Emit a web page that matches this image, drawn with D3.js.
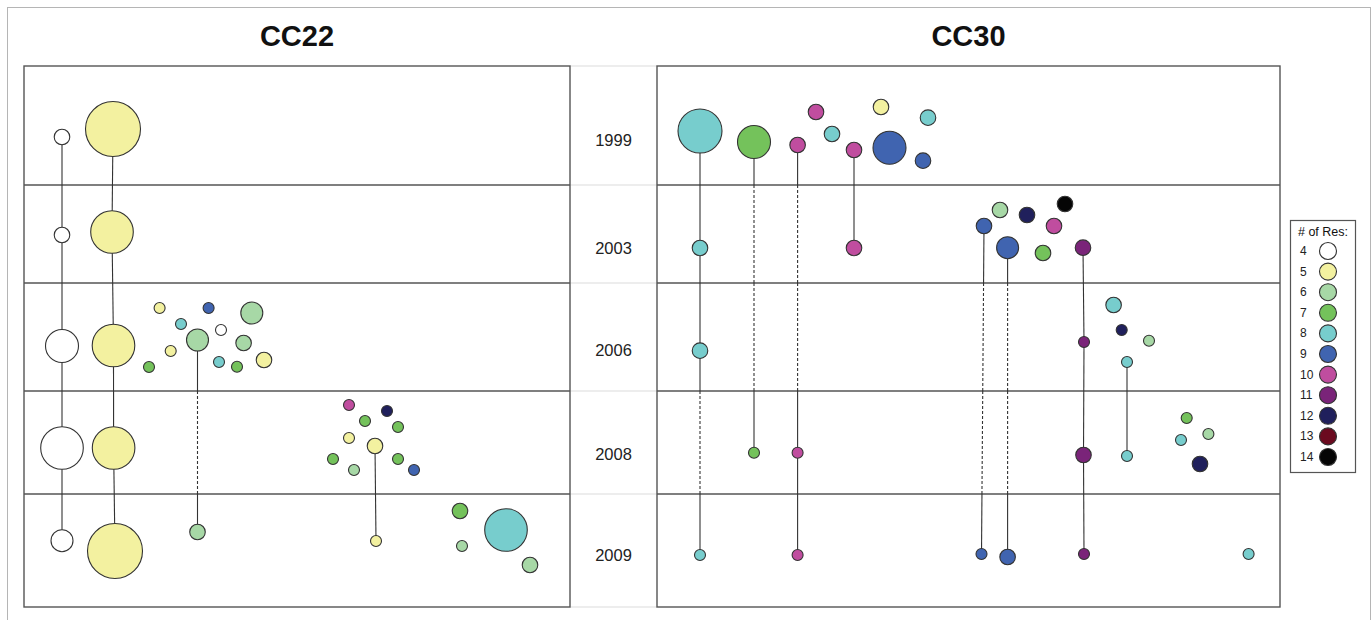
<html>
<head>
  <title>CC22 / CC30</title>
  <script src='https://d3js.org/d3.v7.min.js'></script>
  <style>
    body { margin: 0; background: white; }
    text { font-family: "Liberation Sans", Arial, Helvetica, sans-serif; }
  </style>
</head>
<body>
<script>

// ---- data ----
var years = ["1999", "2003", "2006", "2008", "2009"];
// row boundaries and year label positions, in panel y units (0 = panel top)
var rowBreaks = [0, 119, 217, 325, 428, 541];
var yearLabelY = [74, 182, 284, 388, 489];

var resLevels = [4, 5, 6, 7, 8, 9, 10, 11, 12, 13, 14];
var resColors = ["#ffffff", "#f3f1a0", "#a7d8a6", "#74c25b", "#77cdcd", "#4064b0",
                 "#c04d9f", "#7a2479", "#20205c", "#6b0a1f", "#050505"];

// [id, row, x, y, # of res, n isolates]
var cc22Nodes = [
  ["a1", 0, 38, 71, 4, 2], ["a2", 0, 89, 63, 5, 25],
  ["b1", 1, 38, 169, 4, 2], ["b2", 1, 88, 166, 5, 15],
  ["c1", 2, 38, 280, 4, 9], ["c2", 2, 89.5, 279.5, 5, 15],
  ["c3", 2, 135.6, 242, 5, 1], ["c4", 2, 184.6, 242, 9, 1],
  ["c5", 2, 227.8, 247, 6, 4], ["c6", 2, 157, 258, 8, 1],
  ["c7", 2, 197, 264, 4, 1], ["c8", 2, 173.5, 274, 6, 4],
  ["c9", 2, 219.6, 277, 6, 2], ["c10", 2, 146.7, 285, 5, 1],
  ["c11", 2, 240, 294, 5, 2], ["c12", 2, 195, 296, 8, 1],
  ["c13", 2, 213, 300.7, 7, 1], ["c14", 2, 125, 301, 7, 1],
  ["d1", 3, 38, 382, 4, 15], ["d2", 3, 89.6, 382, 5, 15],
  ["d3", 3, 325, 339, 10, 1], ["d4", 3, 363, 345, 12, 1],
  ["d5", 3, 341, 355, 7, 1], ["d6", 3, 374, 361, 7, 1],
  ["d7", 3, 325, 372, 5, 1], ["d8", 3, 351, 380, 5, 2],
  ["d9", 3, 309, 393, 7, 1], ["d10", 3, 330, 404, 6, 1],
  ["d11", 3, 374, 393, 7, 1], ["d12", 3, 390, 404, 9, 1],
  ["e1", 4, 38, 474.7, 4, 4], ["e2", 4, 91, 485, 5, 25],
  ["e3", 4, 173.5, 466, 6, 2], ["e4", 4, 352, 475, 5, 1],
  ["e5", 4, 436, 445, 7, 2], ["e6", 4, 482, 464, 8, 15],
  ["e7", 4, 438, 480, 6, 1], ["e8", 4, 506, 499, 6, 2]
];
var cc22Links = [["a1","b1"], ["b1","c1"], ["c1","d1"], ["d1","e1"],
                 ["a2","b2"], ["b2","c2"], ["c2","d2"], ["d2","e2"],
                 ["c8","e3"], ["d8","e4"]];

var cc30Nodes = [
  ["f1", 0, 43, 65, 8, 16], ["f2", 0, 97, 76, 7, 9],
  ["f3", 0, 140.6, 79, 10, 2], ["f4", 0, 159, 46, 10, 2],
  ["f5", 0, 175, 68, 8, 2], ["f6", 0, 197, 84, 10, 2],
  ["f7", 0, 224, 41, 5, 2], ["f8", 0, 232.5, 81.7, 9, 9],
  ["f9", 0, 271, 51.7, 8, 2], ["f10", 0, 266, 94.7, 9, 2],
  ["g1", 1, 43, 182, 8, 2], ["g2", 1, 197, 182, 10, 2],
  ["g3", 1, 327, 160, 9, 2], ["g4", 1, 343, 144, 6, 2],
  ["g5", 1, 370, 149, 12, 2], ["g6", 1, 408, 138, 14, 2],
  ["g7", 1, 397, 160, 10, 2], ["g8", 1, 350.6, 181.7, 9, 4],
  ["g9", 1, 386, 187, 7, 2], ["g10", 1, 426, 181.7, 11, 2],
  ["h1", 2, 43, 284.7, 8, 2], ["h2", 2, 427, 276, 11, 1],
  ["h3", 2, 456.6, 239, 8, 2], ["h4", 2, 464.7, 264, 12, 1],
  ["h5", 2, 492, 274.7, 6, 1], ["h6", 2, 470, 296, 8, 1],
  ["i1", 3, 97, 386.7, 7, 1], ["i2", 3, 140.6, 386.7, 10, 1],
  ["i3", 3, 426.5, 389, 11, 2], ["i4", 3, 470, 390, 8, 1],
  ["i5", 3, 529.7, 352, 7, 1], ["i6", 3, 551.4, 368, 6, 1],
  ["i7", 3, 524, 374, 8, 1], ["i8", 3, 543, 398, 12, 2],
  ["j1", 4, 43, 489, 8, 1], ["j2", 4, 140.6, 489, 10, 1],
  ["j3", 4, 324.5, 488, 9, 1], ["j4", 4, 350.6, 491, 9, 2],
  ["j5", 4, 427, 488, 11, 1], ["j6", 4, 591.6, 488, 8, 1]
];
var cc30Links = [["f1","g1"], ["g1","h1"], ["h1","j1"], ["f2","i1"],
                 ["f3","i2"], ["i2","j2"], ["f6","g2"], ["g3","j3"],
                 ["g8","j4"], ["g10","h2"], ["h2","i3"], ["i3","j5"],
                 ["h6","i4"]];

// ---- layout ----
var width = 1372,
    height = 620,
    yTop = 66,
    yBottom = 607,
    panels = [
      {name: "CC22", x0: 24, x1: 570, nodes: cc22Nodes, links: cc22Links},
      {name: "CC30", x0: 657, x1: 1280, nodes: cc30Nodes, links: cc30Links}
    ];

var color = d3.scaleOrdinal().domain(resLevels).range(resColors);
var radius = d3.scaleSqrt().domain([0, 25]).range([0, 27.5]);
var y = d3.scaleLinear().domain([0, 541]).range([yTop, yBottom]);

var svg = d3.select('body')
  .append('svg')
  .attr('width', width)
  .attr('height', height);

// outer frame
svg.append('rect')
  .attr('x', 7.5).attr('y', 7.5)
  .attr('width', 1363).attr('height', 630)
  .attr('fill', 'none')
  .attr('stroke', '#b5b5b5')
  .attr('stroke-width', 1);

// faint row lines across the gap between panels
svg.selectAll('line.gap')
  .data(rowBreaks)
  .enter()
  .append('line')
  .attr('class', 'gap')
  .attr('x1', panels[0].x1).attr('x2', panels[1].x0)
  .attr('y1', function(d) { return y(d); })
  .attr('y2', function(d) { return y(d); })
  .attr('stroke', '#dcdcdc')
  .attr('stroke-width', 1.2);

// year labels
svg.selectAll('text.year')
  .data(years)
  .enter()
  .append('text')
  .attr('class', 'year')
  .attr('x', (panels[0].x1 + panels[1].x0) / 2)
  .attr('y', function(d, i) { return y(yearLabelY[i]); })
  .attr('text-anchor', 'middle')
  .attr('dominant-baseline', 'central')
  .attr('font-size', 16.5)
  .attr('fill', '#222')
  .text(function(d) { return d; });

panels.forEach(function(p) {
  var x = d3.scaleLinear().domain([0, p.x1 - p.x0]).range([p.x0, p.x1]);
  var g = svg.append('g');

  var byId = {};
  p.nodes.forEach(function(d) { byId[d[0]] = d; });

  g.append('text')
    .attr('x', (p.x0 + p.x1) / 2)
    .attr('y', 46)
    .attr('text-anchor', 'middle')
    .attr('font-size', 29)
    .attr('font-weight', 'bold')
    .attr('fill', '#111')
    .text(p.name);

  // inner row separators
  g.selectAll('line.row')
    .data(rowBreaks.slice(1, -1))
    .enter()
    .append('line')
    .attr('x1', p.x0).attr('x2', p.x1)
    .attr('y1', function(d) { return y(d); })
    .attr('y2', function(d) { return y(d); })
    .attr('stroke', '#555')
    .attr('stroke-width', 1.3);

  // lineage lines: solid inside the end rows, dashed through skipped rows
  var segs = [];
  p.links.forEach(function(l) {
    var s = byId[l[0]], t = byId[l[1]];
    var ys = [s[3]];
    for (var r = s[1] + 1; r <= t[1]; r++) ys.push(rowBreaks[r]);
    ys.push(t[3]);
    var xAt = function(v) { return s[2] + (t[2] - s[2]) * (v - s[3]) / (t[3] - s[3]); };
    for (var k = 0; k < ys.length - 1; k++) {
      var dashed = k > 0 && k < ys.length - 2;
      segs.push({x1: xAt(ys[k]), y1: ys[k], x2: xAt(ys[k + 1]), y2: ys[k + 1], dashed: dashed});
    }
  });

  g.selectAll('line.link')
    .data(segs)
    .enter()
    .append('line')
    .attr('x1', function(d) { return x(d.x1); })
    .attr('y1', function(d) { return y(d.y1); })
    .attr('x2', function(d) { return x(d.x2); })
    .attr('y2', function(d) { return y(d.y2); })
    .attr('stroke', '#333')
    .attr('stroke-width', 1.1)
    .attr('stroke-dasharray', function(d) { return d.dashed ? '3,2' : null; });

  g.selectAll('circle')
    .data(p.nodes)
    .enter()
    .append('circle')
    .attr('cx', function(d) { return x(d[2]); })
    .attr('cy', function(d) { return y(d[3]); })
    .attr('r', function(d) { return radius(d[5]); })
    .attr('fill', function(d) { return color(d[4]); })
    .attr('stroke', '#333')
    .attr('stroke-width', 1.1);

  // panel box
  g.append('rect')
    .attr('x', p.x0).attr('y', yTop)
    .attr('width', p.x1 - p.x0).attr('height', yBottom - yTop)
    .attr('fill', 'none')
    .attr('stroke', '#555')
    .attr('stroke-width', 1.4);
});

// legend
var legend = svg.append('g');
var ly = d3.scaleLinear().domain([0, resLevels.length - 1]).range([251, 457]);

legend.append('rect')
  .attr('x', 1290.5).attr('y', 220.5)
  .attr('width', 65).attr('height', 252)
  .attr('fill', 'white')
  .attr('stroke', '#555')
  .attr('stroke-width', 1.2);

legend.append('text')
  .attr('x', 1323)
  .attr('y', 232)
  .attr('text-anchor', 'middle')
  .attr('dominant-baseline', 'central')
  .attr('font-size', 12.5)
  .attr('fill', '#111')
  .text('# of Res:');

var items = legend.selectAll('g.item')
  .data(resLevels)
  .enter()
  .append('g')
  .attr('class', 'item');

items.append('text')
  .attr('x', 1300)
  .attr('y', function(d, i) { return ly(i); })
  .attr('dominant-baseline', 'central')
  .attr('font-size', 12)
  .attr('fill', '#222')
  .text(function(d) { return d; });

items.append('circle')
  .attr('cx', 1328)
  .attr('cy', function(d, i) { return ly(i); })
  .attr('r', 8.5)
  .attr('fill', function(d) { return color(d); })
  .attr('stroke', '#333')
  .attr('stroke-width', 1.1);

</script>
</body>
</html>
